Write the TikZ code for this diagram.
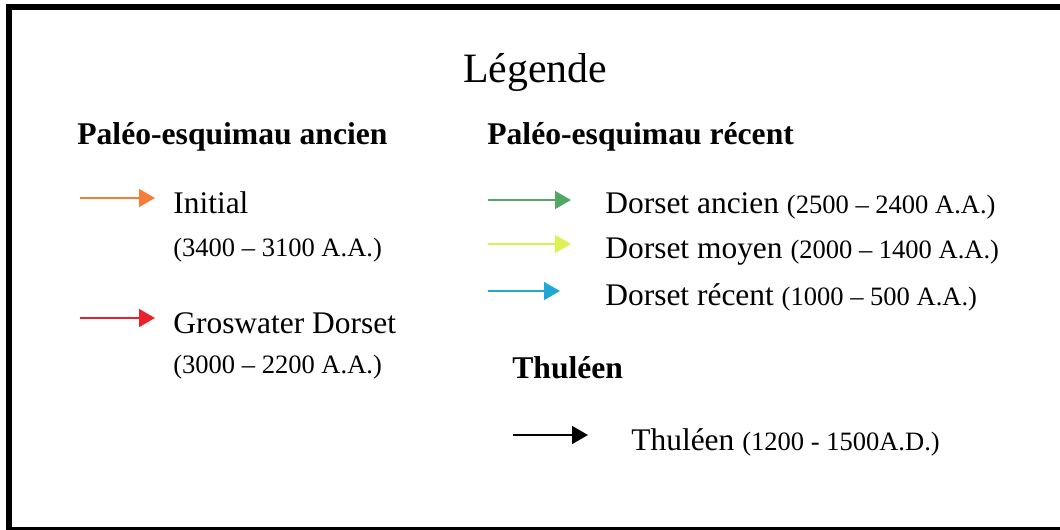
\documentclass[tikz,border=0pt]{standalone}
\usepackage{fontspec}
\setmainfont{Liberation Serif}
\usetikzlibrary{arrows.meta}

\definecolor{initial}{RGB}{246,124,58}
\definecolor{groswater}{RGB}{236,32,42}
\definecolor{dancien}{RGB}{82,168,98}
\definecolor{dmoyen}{RGB}{222,240,82}
\definecolor{drecent}{RGB}{32,168,210}

\newcommand{\ann}[1]{{\fontsize{15.1}{18}\selectfont #1}}

\tikzset{
  key/.style={line width=1.3pt,-{Triangle[length=9pt,width=10pt]}},
  lbl/.style={anchor=base west,inner sep=0pt,font=\fontsize{17.9}{21}\selectfont},
  sub/.style={anchor=base west,inner sep=0pt,font=\fontsize{15.1}{18}\selectfont},
  head/.style={anchor=base west,inner sep=0pt,font=\fontsize{18}{21}\selectfont\bfseries},
}

\begin{document}
\begin{tikzpicture}[x=0.02cm,y=-0.02cm]
        \useasboundingbox (0,0) rectangle (1060,529);
        \draw[line width=3.4pt] (9,7) rectangle (1080,530);
        \node[anchor=base,inner sep=0pt,font=\fontsize{23.8}{28}\selectfont] (titre) at (535,82) {Légende};
        % colonne de gauche
        \node[head] (ancien) at (77,144) {Paléo-esquimau ancien};
        \coordinate (a1) at (80,198);
        \coordinate (b1) at (155,198);
        \draw[key,initial] (a1) -- (b1);
        \node[lbl] (init) at (173,213) {Initial};
        \node[sub] (init-d) at (173,256) {(3400 – 3100 A.A.)};
        \coordinate (a2) at (80,318);
        \coordinate (b2) at (155,318);
        \draw[key,groswater] (a2) -- (b2);
        \node[lbl] (gros) at (173,333) {Groswater Dorset};
        \node[sub] (gros-d) at (173,373) {(3000 – 2200 A.A.)};
        % colonne de droite
        \node[head] (recent) at (487,144) {Paléo-esquimau récent};
        \coordinate (a3) at (488,200);
        \coordinate (b3) at (571,200);
        \draw[key,dancien] (a3) -- (b3);
        \node[lbl] (dors1) at (605,213) {Dorset ancien \ann{(2500 – 2400 A.A.)}};
        \coordinate (a4) at (488,244);
        \coordinate (b4) at (571,244);
        \draw[key,dmoyen] (a4) -- (b4);
        \node[lbl] (dors2) at (605,258) {Dorset moyen \ann{(2000 – 1400 A.A.)}};
        \coordinate (a5) at (488,291);
        \coordinate (b5) at (560,291);
        \draw[key,drecent] (a5) -- (b5);
        \node[lbl] (dors3) at (605,305) {Dorset récent \ann{(1000 – 500 A.A.)}};
        \node[head] (thule) at (512,378) {Thuléen};
        \coordinate (a6) at (513,435);
        \coordinate (b6) at (588,435);
        \draw[key,black] (a6) -- (b6);
        \node[lbl] (thule-l) at (631,450) {Thuléen \ann{(1200 - 1500A.D.)}};
\end{tikzpicture}
\end{document}
